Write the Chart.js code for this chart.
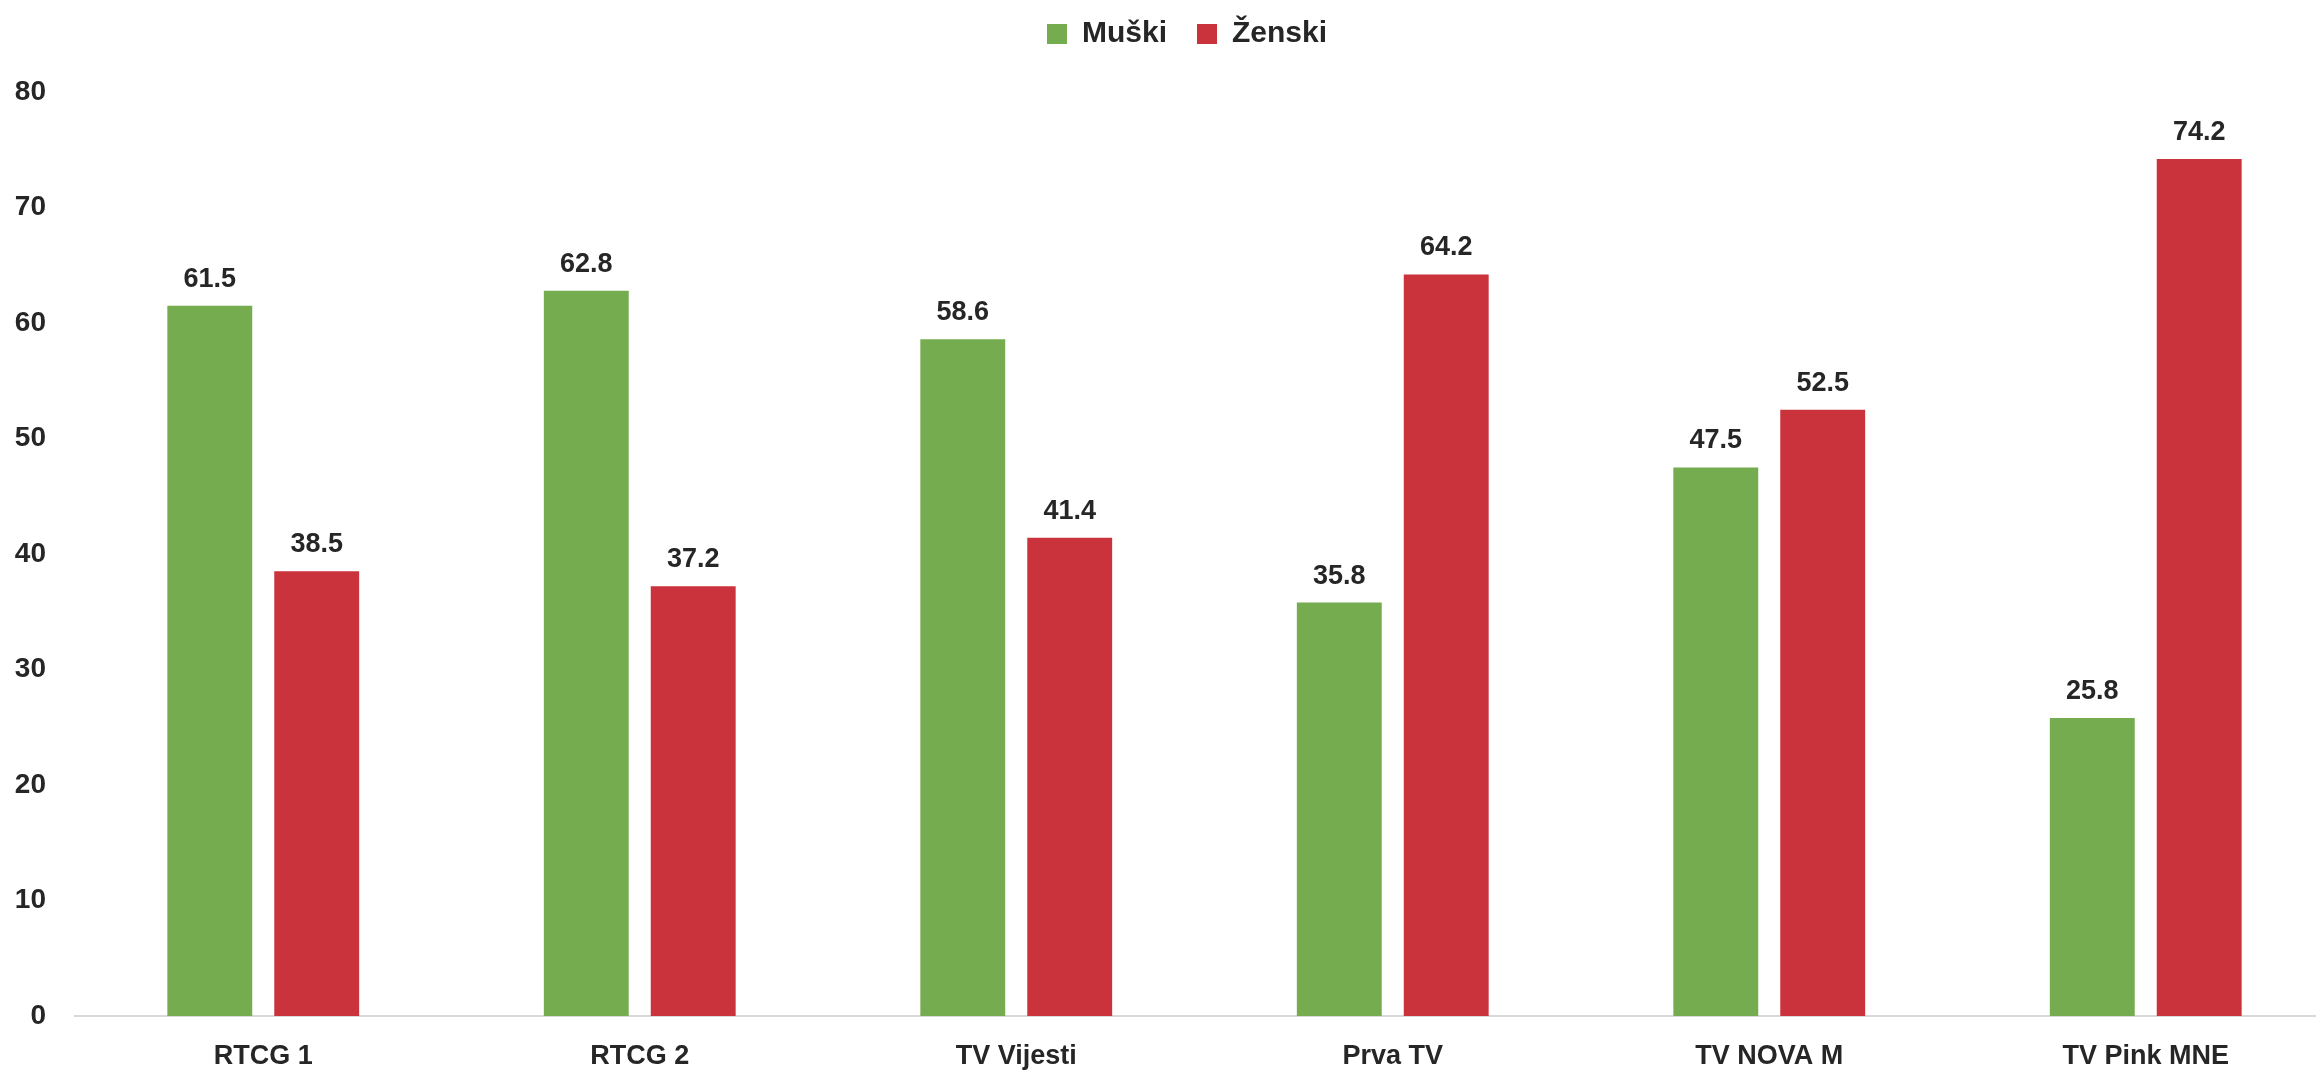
<!DOCTYPE html>
<html>
<head>
<meta charset="utf-8">
<script src="https://cdn.jsdelivr.net/npm/chart.js@4/dist/chart.umd.min.js"></script>
<style>
  html, body { margin: 0; padding: 0; background: #fff; overflow: hidden; }
  #wrap { width: 2364px; height: 1072px; }
</style>
</head>
<body>
<div id="wrap"><canvas id="barChart" width="2364" height="1072"></canvas></div>
<script>
// DATA

const categories = ["RTCG 1", "RTCG 2", "TV Vijesti", "Prva TV", "TV NOVA M", "TV Pink MNE"];
const muski = [61.5, 62.8, 58.6, 35.8, 47.5, 25.8];
const zenski = [38.5, 37.2, 41.4, 64.2, 52.5, 74.2];
const seriesNames = ["Muški", "Ženski"];
const yMin = 0;
const yMax = 80;
const yStep = 10;

const FONT = "'Liberation Sans', Arial, sans-serif";
const TEXT = "#262626";

// value labels above each bar
const valueLabels = {
  id: "valueLabels",
  afterDatasetsDraw(chart) {
    const ctx = chart.ctx;
    ctx.save();
    ctx.font = "bold 27px " + FONT;
    ctx.fillStyle = TEXT;
    ctx.textAlign = "center";
    ctx.textBaseline = "alphabetic";
    chart.data.datasets.forEach((ds, i) => {
      chart.getDatasetMeta(i).data.forEach((bar, j) => {
        ctx.fillText(ds.data[j].toFixed(1), bar.x, bar.y - 19);
      });
    });
    ctx.restore();
  }
};

// legend sits higher than its layout box (extra gap above the plot)
const legendLift = {
  id: "legendLift",
  afterLayout(chart) {
    if (chart.legend) chart.legend.top = -11;
  }
};

const ctx = document.getElementById("barChart").getContext("2d");

new Chart(ctx, {
  type: "bar",
  data: {
    labels: categories,
    datasets: [
      {
        label: seriesNames[0],
        data: muski,
        backgroundColor: "#75ac4f",
        categoryPercentage: 0.568,
        barPercentage: 0.794
      },
      {
        label: seriesNames[1],
        data: zenski,
        backgroundColor: "#ca333b",
        categoryPercentage: 0.568,
        barPercentage: 0.794
      }
    ]
  },
  options: {
    responsive: false,
    animation: false,
    layout: { padding: { left: 10, top: 22, right: 0, bottom: 0 } },
    plugins: {
      tooltip: { enabled: false },
      legend: {
        position: "top",
        labels: {
          boxWidth: 20,
          boxHeight: 20,
          padding: 30,
          color: TEXT,
          font: { family: FONT, size: 30, weight: "bold" }
        }
      }
    },
    scales: {
      x: {
        grid: { display: false, drawTicks: false },
        border: { display: true, color: "#d9d9d9", width: 2 },
        ticks: {
          padding: 24,
          color: TEXT,
          font: { family: FONT, size: 27, weight: "bold" }
        },
        afterFit(scale) { scale.height = 56; }
      },
      y: {
        min: yMin,
        max: yMax,
        grid: { display: false, drawTicks: false },
        border: { display: false },
        ticks: {
          stepSize: yStep,
          padding: 29,
          color: TEXT,
          font: { family: FONT, size: 28, weight: "bold" }
        },
        afterFit(scale) { scale.width = 65; }
      },
      yRight: {
        type: "linear",
        position: "right",
        grid: { display: false, drawTicks: false },
        border: { display: false },
        ticks: { display: false },
        afterFit(scale) { scale.width = 30; }
      }
    }
  },
  plugins: [valueLabels, legendLift]
});
</script>
</body>
</html>
